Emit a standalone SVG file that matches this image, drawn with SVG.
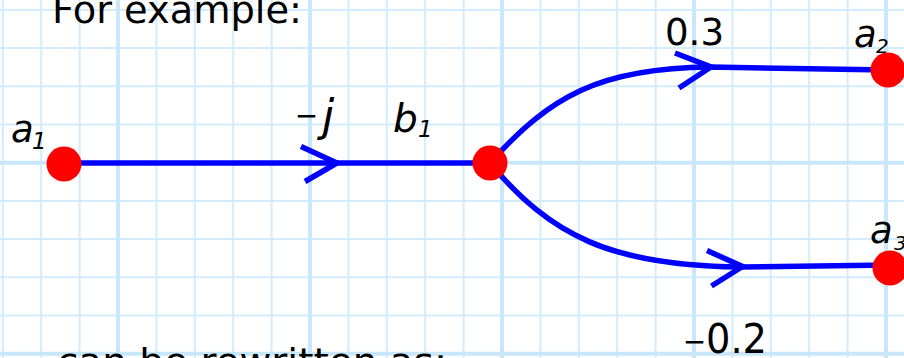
<svg xmlns="http://www.w3.org/2000/svg" width="904" height="358" viewBox="0 0 904 358">
<style>
.g{stroke:#d3ecfc;stroke-width:2;fill:none}
.G{stroke:#c9e7fb;stroke-width:4;fill:none}
.e{stroke:#0000ff;stroke-width:5.5;fill:none;stroke-linecap:butt}
.h{stroke:#0000ff;stroke-width:5.5;fill:none;stroke-linejoin:miter}
.n{fill:#ff0000}
.t{font-family:"DejaVu Sans",sans-serif;fill:#000}
.i{font-family:"DejaVu Sans",sans-serif;font-style:italic;fill:#000}
.m{font-family:"Liberation Sans",sans-serif;fill:#000}
</style>
<rect width="904" height="358" fill="#fff"/>
<g id="grid">
<path class="g" d="M2.8,0V358M41.2,0V358M79.6,0V358M156.4,0V358M194.8,0V358M233.2,0V358M271.6,0V358M348.4,0V358M386.8,0V358M425.2,0V358M463.6,0V358M540.4,0V358M578.8,0V358M617.2,0V358M655.6,0V358M732.4,0V358M770.8,0V358M809.2,0V358M847.6,0V358"/>
<path class="g" d="M0,9.9H904M0,48.1H904M0,86.3H904M0,124.5H904M0,200.9H904M0,239.1H904M0,277.3H904M0,315.5H904"/>
<path class="G" d="M118,0V358M310,0V358M502,0V358M694,0V358M886,0V358M0,162.7H904M0,353.7H904"/>
</g>
<g id="connectors">
<path class="e" d="M64,163H490"/>
<polyline class="h" points="301,146.5 337,163 305,181.5"/>
<path class="e" d="M490,163C550,96 600,68 710,67L888,70"/>
<polyline class="h" points="675,53 711,67 679,88"/>
<path class="e" d="M490,163C550,235 610,266 742,267L890,265"/>
<polyline class="h" points="707,250.5 742.5,266.5 711.5,286"/>
</g>
<g id="node-a1"><circle class="n" cx="64" cy="164" r="17.5"/>
<text class="i" x="11" y="142" font-size="37">a</text><text class="i" x="32" y="149" font-size="23">1</text></g>
<g id="node-b1"><circle class="n" cx="490" cy="163" r="17.5"/>
<text class="i" x="393" y="132" font-size="39">b</text><text class="i" x="418" y="137" font-size="23">1</text></g>
<g id="node-a2"><circle class="n" cx="888" cy="70" r="17.5"/>
<text class="i" x="854" y="47" font-size="37">a</text><text class="i" x="876" y="53" font-size="20">2</text></g>
<g id="node-a3"><circle class="n" cx="890" cy="268" r="17.5"/>
<text class="i" x="870" y="243" font-size="37">a</text><text class="i" x="894" y="250" font-size="20">3</text></g>
<g id="labels">
<text class="t" x="52" y="23" font-size="38" textLength="250" lengthAdjust="spacingAndGlyphs">For example:</text>
<text class="t" x="57" y="375" font-size="38" textLength="390" lengthAdjust="spacingAndGlyphs">can be rewritten as:</text>
<text class="m" x="296" y="128" font-size="36">−</text><text class="i" x="322" y="131" font-size="44">j</text>
<text class="t" x="665" y="45" font-size="38" textLength="59" lengthAdjust="spacingAndGlyphs">0.3</text>
<text class="m" x="684" y="354" font-size="36">−</text><text class="t" x="706" y="353" font-size="40" textLength="61" lengthAdjust="spacingAndGlyphs">0.2</text>
</g>
</svg>
